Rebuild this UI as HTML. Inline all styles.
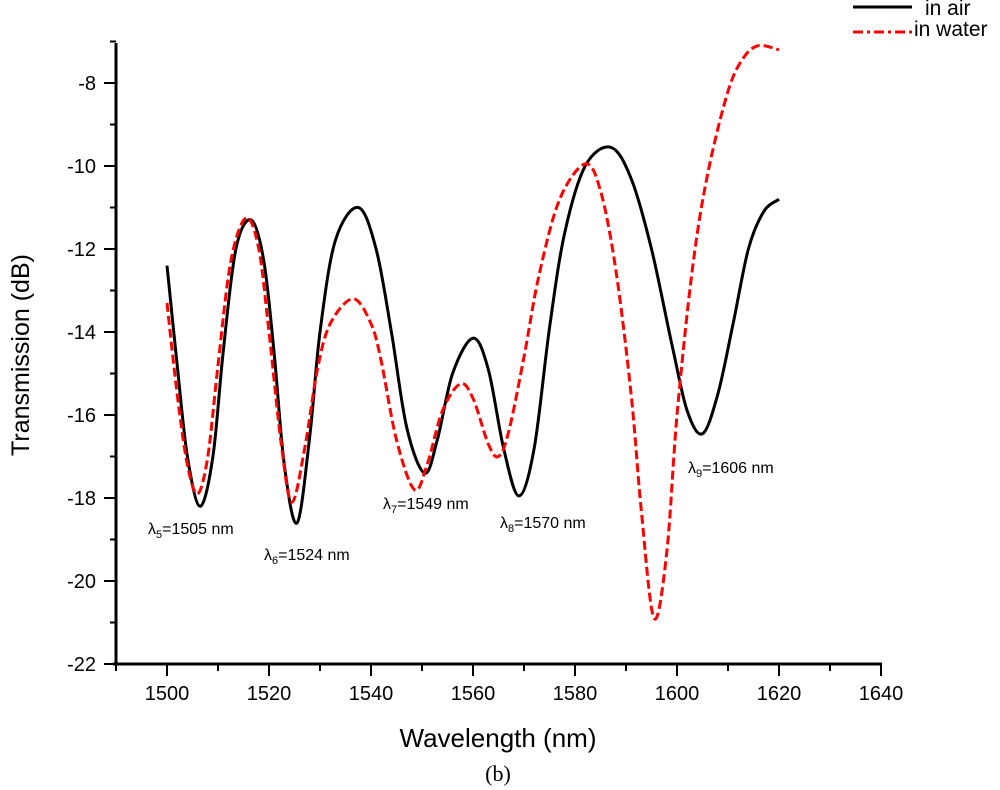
<!DOCTYPE html>
<html><head><meta charset="utf-8"><style>
html,body{margin:0;padding:0;background:#fff;}
svg{display:block;font-family:"Liberation Sans",sans-serif;}
</style></head><body>
<svg id="chart" width="1000" height="790" viewBox="0 0 1000 790">
<g id="axes"></g>
<g id="series"></g>
<g>
  <line x1="853" y1="7" x2="912" y2="7" stroke="#000" stroke-width="3"/>
  <text x="925" y="15" font-size="21">in air</text>
  <line x1="853" y1="32" x2="912" y2="32" stroke="#f00" stroke-width="3" stroke-dasharray="10,4,3,4"/>
  <text x="914" y="36" font-size="21">in water</text>
</g>
<g font-size="16">
  <text x="148" y="534">λ<tspan font-size="11" dy="4">5</tspan><tspan dy="-4">=1505 nm</tspan></text>
  <text x="264" y="560">λ<tspan font-size="11" dy="4">6</tspan><tspan dy="-4">=1524 nm</tspan></text>
  <text x="383" y="509">λ<tspan font-size="11" dy="4">7</tspan><tspan dy="-4">=1549 nm</tspan></text>
  <text x="500" y="528">λ<tspan font-size="11" dy="4">8</tspan><tspan dy="-4">=1570 nm</tspan></text>
  <text x="688" y="473">λ<tspan font-size="11" dy="4">9</tspan><tspan dy="-4">=1606 nm</tspan></text>
</g>
<text x="498" y="747" font-size="26" text-anchor="middle">Wavelength (nm)</text>
<text transform="translate(29,355) rotate(-90)" font-size="25" text-anchor="middle">Transmission (dB)</text>
<text x="498" y="781" font-size="22" text-anchor="middle" font-family="Liberation Serif, serif">(b)</text>
</svg>
<script>
const xTicks = [1500,1520,1540,1560,1580,1600,1620,1640];
const yTicks = [-8,-10,-12,-14,-16,-18,-20,-22];
const airNm = [1500,1502,1504,1506.5,1509,1511,1513.5,1516.5,1519,1521,1523,1525.5,1528,1530,1533,1537.5,1541,1544,1547,1550.5,1553,1556,1560,1563,1566,1569,1572,1575,1578,1582,1587,1591,1595,1599,1602,1605,1608,1611,1614,1617,1620];
const airDb = [-12.4,-14.8,-17.0,-18.2,-17.0,-14.5,-12.0,-11.3,-12.3,-14.5,-17.2,-18.6,-16.5,-14.0,-11.8,-11.0,-12.0,-14.0,-16.3,-17.4,-16.6,-15.0,-14.15,-14.9,-16.8,-17.95,-16.8,-13.9,-11.6,-10.0,-9.55,-10.3,-12.0,-14.3,-15.9,-16.45,-15.5,-13.8,-12.0,-11.1,-10.8];
const waterNm = [1500,1502,1504,1506,1508,1510,1512.5,1515.5,1518,1520,1522.5,1524.5,1527,1529.5,1532,1536.5,1540,1542,1545,1548.5,1551,1554,1557.5,1560,1563,1565,1567,1570,1573,1577,1582,1585,1588,1591,1593,1595.5,1598,1600,1603,1606,1610,1613,1616,1620];
const waterDb = [-13.3,-15.5,-17.2,-17.9,-17.0,-14.8,-12.3,-11.25,-12.0,-14.0,-16.8,-18.1,-16.8,-14.9,-13.8,-13.2,-13.8,-14.7,-16.6,-17.8,-17.2,-15.9,-15.25,-15.6,-16.7,-17.0,-16.4,-14.6,-12.6,-10.8,-9.95,-10.6,-12.5,-15.5,-18.3,-20.9,-19.3,-16.0,-12.5,-10.2,-8.2,-7.4,-7.1,-7.2];

const X0=116, X1=881, XMIN=1490, XMAX=1640;
const Y0=83, Y1=664, YTOP=-8, YBOT=-22;
function xs(v){return X0+(v-XMIN)/(XMAX-XMIN)*(X1-X0);}
function ys(v){return Y0+(YTOP-v)/(YTOP-YBOT)*(Y1-Y0);}
const NS='http://www.w3.org/2000/svg';
const axes=document.getElementById('axes'), series=document.getElementById('series');
function mk(tag,attrs,parent){const e=document.createElementNS(NS,tag);for(const k in attrs)e.setAttribute(k,attrs[k]);parent.appendChild(e);return e;}

let e;
e=mk('line',{x1:X0,y1:43,x2:X0,y2:Y1,stroke:'#000','stroke-width':3},axes);


e=mk('line',{x1:X0-3,y1:Y1,x2:X1+1,y2:Y1,stroke:'#000','stroke-width':3},axes);


for(let v=XMIN; v<=XMAX; v+=10){
  const major = xTicks.includes(v);
  e=mk('line',{x1:xs(v),y1:Y1,x2:xs(v),y2:Y1+(major?12:7),stroke:'#000','stroke-width':2},axes);
  
  
}
xTicks.forEach(v=>{
  e=mk('text',{x:xs(v),y:Y1+36,'font-size':20,'text-anchor':'middle'},axes);
  e.textContent=v;
  
  
});
for(let v=-7; v>=YBOT; v-=1){
  const major = yTicks.includes(v);
  e=mk('line',{x1:X0-(major?12:6),y1:ys(v),x2:X0,y2:ys(v),stroke:'#000','stroke-width':2},axes);
  
  
}
yTicks.forEach(v=>{
  e=mk('text',{x:X0-20,y:ys(v)+7,'font-size':20,'text-anchor':'end'},axes);
  e.textContent=v;
  
  
});

function pathFor(nm,db){
  const p=nm.map((v,i)=>[xs(v),ys(db[i])]);
  let d='M'+p[0][0].toFixed(1)+','+p[0][1].toFixed(1);
  for(let i=0;i<p.length-1;i++){
    const p0=p[Math.max(0,i-1)],p1=p[i],p2=p[i+1],p3=p[Math.min(p.length-1,i+2)];
    const c1=[p1[0]+(p2[0]-p0[0])/6,p1[1]+(p2[1]-p0[1])/6];
    const c2=[p2[0]-(p3[0]-p1[0])/6,p2[1]-(p3[1]-p1[1])/6];
    d+='C'+c1[0].toFixed(1)+','+c1[1].toFixed(1)+' '+c2[0].toFixed(1)+','+c2[1].toFixed(1)+' '+p2[0].toFixed(1)+','+p2[1].toFixed(1);
  }
  return d;
}
e=mk('path',{d:pathFor(airNm,airDb),fill:'none',stroke:'#000','stroke-width':3},series);


e=mk('path',{d:pathFor(waterNm,waterDb),fill:'none',stroke:'#f00','stroke-width':3,'stroke-dasharray':'9,4'},series);


</script>
</body></html>
